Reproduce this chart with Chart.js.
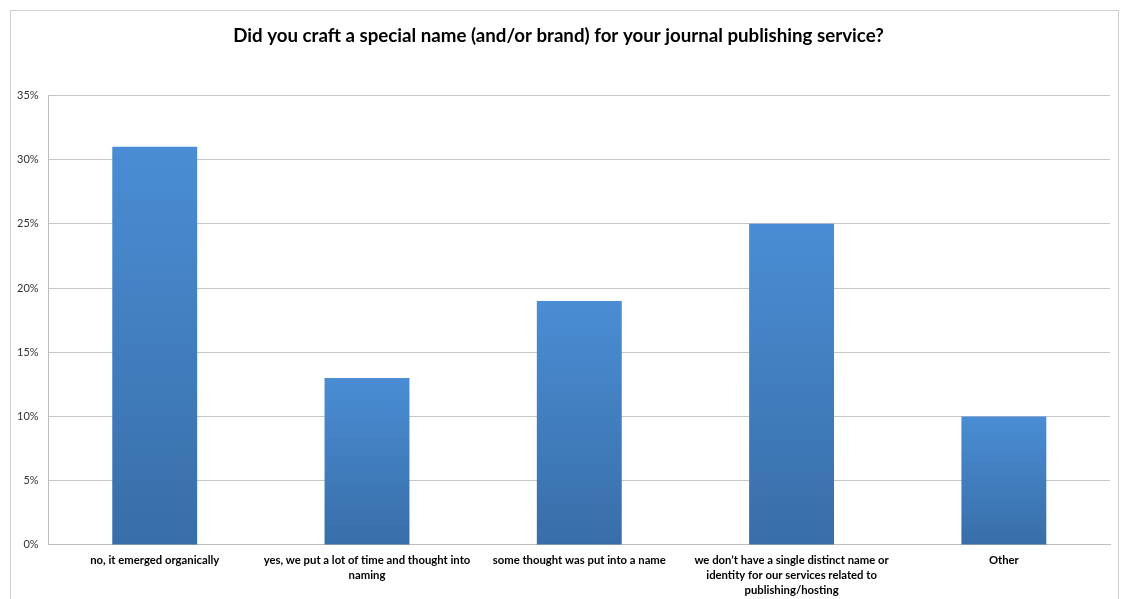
<!DOCTYPE html>
<html>
<head>
<meta charset="utf-8">
<script src="https://cdn.jsdelivr.net/npm/chart.js@4/dist/chart.umd.min.js"></script>
<style>
  body { margin: 0; background: #fff; }
  #frame { position: absolute; left: 10px; top: 10px; width: 1107px; height: 600px; border: 1px solid #cfcfcf; border-bottom: none; }
  #wrap { position: absolute; left: 0; top: 0; width: 1122px; height: 599px; }
</style>
</head>
<body>
<div id="frame"></div>
<div id="wrap"><canvas id="myChart"></canvas></div>
<script>
// data block
var categories = [
    ['no, it emerged organically'],
    ['yes, we put a lot of time and thought into', 'naming'],
    ['some thought was put into a name'],
    ['we don\u2019t have a single distinct name or', 'identity for our services related to', 'publishing/hosting'],
    ['Other']
];
var shares = [31, 13, 19, 25, 10];
var yTicks = ['0%', '5%', '10%', '15%', '20%', '25%', '30%', '35%'];

// each bar gets its own top-to-bottom gradient
function barFill(ctx) {
    var chart = ctx.chart;
    if (!chart.chartArea || ctx.type !== 'data') return '#4a8bd0';
    var y = chart.scales.y;
    var top = y.getPixelForValue(ctx.raw);
    var bottom = y.getPixelForValue(0);
    var g = chart.ctx.createLinearGradient(0, top, 0, bottom);
    g.addColorStop(0, '#4a8dd4');
    g.addColorStop(1, '#386ea8');
    return g;
}

var myCrt = document.getElementById('myChart');
var myBarChart = new Chart(myCrt, {
    type: 'bar',
    data: {
        labels: categories,
        datasets: [{
            data: shares,
            backgroundColor: barFill,
            borderWidth: 0,
            categoryPercentage: 0.4,
            barPercentage: 1
        }]
    },
    options: {
        responsive: true,
        maintainAspectRatio: false,
        animation: false,
        layout: { padding: { left: 7, right: 12, top: 0, bottom: -7 } },
        plugins: {
            legend: { display: false },
            tooltip: { enabled: false },
            title: {
                display: true,
                text: 'Did you craft a special name (and/or brand) for your journal publishing service?',
                color: '#000',
                font: { family: 'Lato', size: 18.7, weight: 'bold' },
                padding: { top: 25, bottom: 48 }
            }
        },
        scales: {
            x: {
                grid: { display: false, drawTicks: false },
                border: { color: '#bdbdbd' },
                ticks: {
                    color: '#000',
                    font: { family: 'Lato', size: 11.3, weight: 'bold', lineHeight: 1.33 },
                    padding: 8,
                    maxRotation: 0,
                    autoSkip: false
                }
            },
            y: {
                min: 0,
                max: 35,
                grid: { color: '#c6c6c6', drawTicks: false },
                border: { color: '#bdbdbd' },
                ticks: {
                    stepSize: 5,
                    color: '#333',
                    padding: 10,
                    font: { family: 'Lato', size: 11 },
                    callback: function (v) { return yTicks[v / 5]; }
                }
            }
        }
    }
});
</script>
</body>
</html>
